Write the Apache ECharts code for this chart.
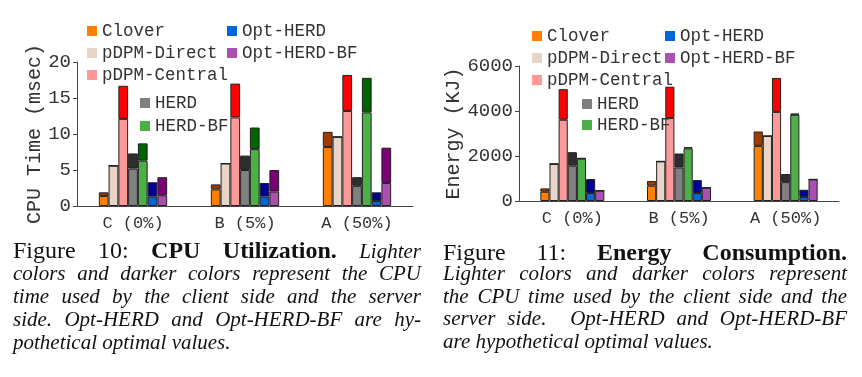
<!DOCTYPE html>
<html>
<head>
<meta charset="utf-8">
<script src="https://cdn.jsdelivr.net/npm/echarts@6/dist/echarts.min.js"></script>
<style>
  body { margin: 0; background: #fff; }
  #wrap { position: relative; width: 862px; height: 377px; overflow: hidden; }
  #showChart { position: absolute; left: 0; top: 0; width: 862px; height: 377px; }
  .cap { position: absolute; font-family: "Liberation Serif", serif; color: #111; }
  .ln { position: absolute; left: 0; height: 24px; line-height: 24px; font-size: 21px; font-style: italic; white-space: nowrap; }
  .j { text-align: justify; text-align-last: justify; }
  .fig { font-style: normal; font-size: 24px; }
  .fig b { font-weight: bold; }
  .fig i { font-style: italic; font-size: 21px; }
</style>
</head>
<body>
<div id="wrap">
  <div id="showChart"></div>
  <div class="cap" style="left:13px;top:0;width:408px;">
    <div class="ln j fig" style="top:238px;width:408px;">Figure 10: <b>CPU Utilization.</b> <i>Lighter</i></div>
    <div class="ln j" style="top:261px;width:408px;">colors and darker colors represent the CPU</div>
    <div class="ln j" style="top:284px;width:408px;">time used by the client side and the server</div>
    <div class="ln j" style="top:307px;width:408px;">side. Opt-HERD and Opt-HERD-BF are hy-</div>
    <div class="ln" style="top:330px;">pothetical optimal values.</div>
  </div>
  <div class="cap" style="left:443px;top:0;width:404px;">
    <div class="ln j fig" style="top:240px;width:404px;">Figure 11: <b>Energy Consumption.</b></div>
    <div class="ln j" style="top:261px;width:404px;">Lighter colors and darker colors represent</div>
    <div class="ln j" style="top:284px;width:404px;">the CPU time used by the client side and the</div>
    <div class="ln j" style="top:306px;width:404px;">server side.&nbsp; Opt-HERD and Opt-HERD-BF</div>
    <div class="ln" style="top:329px;">are hypothetical optimal values.</div>
  </div>
</div>
<script>
var myChart = echarts.init(document.getElementById('showChart'));

var categories = ['C (0%)', 'B (5%)', 'A (50%)'];
var systems = ['Clover', 'pDPM-Direct', 'pDPM-Central', 'HERD', 'HERD-BF', 'Opt-HERD', 'Opt-HERD-BF'];

// CPU time (msec): client part (lighter) and server part (darker, stacked on top)
var cpuClient = [
  [1.4, 2.3, 8.2],
  [5.6, 5.9, 9.6],
  [12.1, 12.3, 13.2],
  [5.2, 5.0, 2.8],
  [6.3, 7.9, 13.0],
  [1.3, 1.3, 0.7],
  [1.5, 2.0, 3.2]
];
var cpuServer = [
  [0.5, 0.7, 2.1],
  [0, 0, 0],
  [4.6, 4.7, 5.0],
  [2.1, 2.0, 1.2],
  [2.4, 3.0, 4.8],
  [2.0, 1.9, 1.2],
  [2.5, 3.0, 4.9]
];

// Energy (KJ)
var energyClient = [
  [410, 680, 2450],
  [1650, 1760, 2890],
  [3610, 3690, 3960],
  [1570, 1490, 840],
  [1880, 2340, 3830],
  [355, 355, 180],
  [460, 590, 960]
];
var energyServer = [
  [150, 210, 640],
  [0, 0, 0],
  [1360, 1390, 1510],
  [600, 620, 360],
  [30, 50, 60],
  [620, 575, 320],
  [0, 0, 0]
];

var cpuTicks = [0, 5, 10, 15, 20];
var energyTicks = [0, 2000, 4000, 6000];

var lightColors = ['#ff8000', '#e8d5c8', '#ff9999', '#808080', '#4caf4a', '#0066dd', '#aa50b0'];
var darkColors = ['#a33a00', '#e8d5c8', '#ff0000', '#2e2e2e', '#006400', '#000099', '#7a007a'];

var mono = 'Liberation Mono';
var txt = '#333';

function makeSeries(client, server, axisIdx) {
  var out = [];
  for (var i = 0; i < systems.length; i++) {
    out.push({
      name: systems[i], type: 'bar', stack: 'g' + axisIdx + '_' + i,
      xAxisIndex: axisIdx, yAxisIndex: axisIdx,
      barGap: '0%', barCategoryGap: axisIdx == 0 ? '39%' : '40%',
      itemStyle: { color: lightColors[i], borderColor: '#222', borderWidth: 1 },
      data: client[i]
    });
    out.push({
      name: systems[i] + ' (server)', type: 'bar', stack: 'g' + axisIdx + '_' + i,
      xAxisIndex: axisIdx, yAxisIndex: axisIdx,
      itemStyle: { color: darkColors[i], borderColor: '#222', borderWidth: 1 },
      data: server[i]
    });
  }
  return out;
}

function legend(names, left, top, gap) {
  return {
    data: names, orient: 'vertical', left: left, top: top,
    itemWidth: 10, itemHeight: 10, itemGap: gap, icon: 'rect',
    itemStyle: { borderWidth: 0 },
    selectedMode: false,
    textStyle: { fontFamily: mono, fontSize: 17.5, color: txt }
  };
}

function yAx(idx, max, interval, name, gap) {
  return {
    gridIndex: idx, type: 'value', min: 0, max: max, interval: interval,
    name: name, nameLocation: 'middle', nameGap: gap,
    nameTextStyle: { fontFamily: mono, fontSize: 20, color: txt },
    axisLine: { show: true, lineStyle: { color: '#444' } },
    axisTick: { show: true, length: 4, lineStyle: { color: '#444' } },
    axisLabel: { fontFamily: mono, fontSize: 19, color: txt, margin: 6,
      formatter: function (v) { return String(v); } },
    splitLine: { show: false }
  };
}

function xAx(idx) {
  return {
    gridIndex: idx, type: 'category', data: categories,
    axisLine: { lineStyle: { color: '#444' } },
    axisTick: { show: false },
    axisLabel: { fontFamily: mono, fontSize: 17, color: txt, margin: 9 }
  };
}

option = {
  backgroundColor: '#fff',
  animation: false,
  grid: [
    { left: 77, width: 336, top: 62, height: 144 },
    { left: 519, width: 320, top: 66, height: 135 }
  ],
  legend: [
    legend(['Clover', 'pDPM-Direct', 'pDPM-Central'], 82, 17, 4),
    legend(['Opt-HERD', 'Opt-HERD-BF'], 222, 17, 4),
    legend(['HERD', 'HERD-BF'], 135, 89, 5),
    legend(['Clover', 'pDPM-Direct', 'pDPM-Central'], 527, 22, 4),
    legend(['Opt-HERD', 'Opt-HERD-BF'], 660, 22, 4),
    legend(['HERD', 'HERD-BF'], 577, 90, 3)
  ],
  xAxis: [xAx(0), xAx(1)],
  yAxis: [
    yAx(0, cpuTicks[cpuTicks.length - 1], cpuTicks[1] - cpuTicks[0], 'CPU Time (msec)', 27),
    yAx(1, energyTicks[energyTicks.length - 1], energyTicks[1] - energyTicks[0], 'Energy (KJ)', 42)
  ],
  series: makeSeries(cpuClient, cpuServer, 0).concat(makeSeries(energyClient, energyServer, 1))
};

myChart.setOption(option);
</script>
</body>
</html>
